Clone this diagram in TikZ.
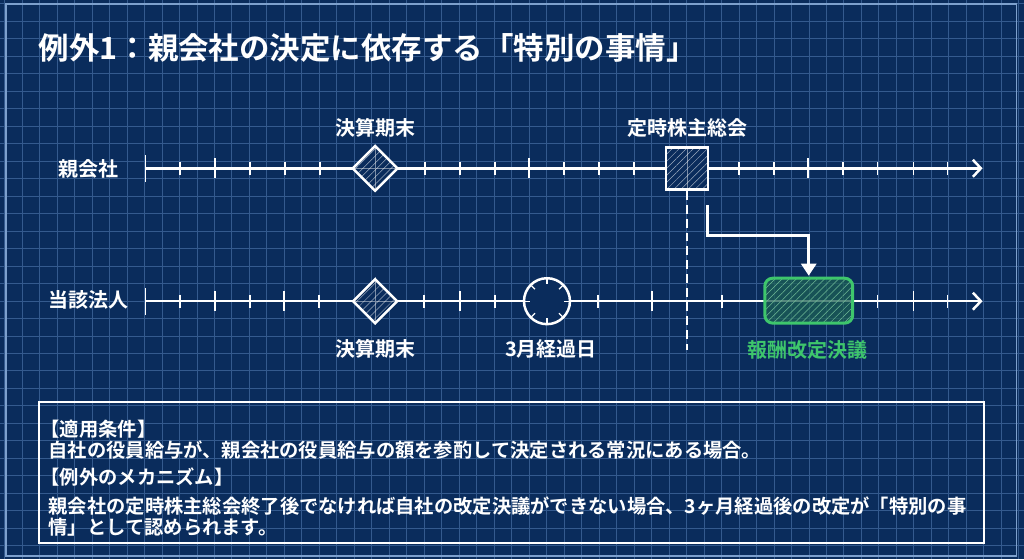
\documentclass[tikz,border=0pt]{standalone}
\usepackage{fontspec}
\setmainfont{Noto Sans CJK JP}[BoldFont={Noto Sans CJK JP Bold}]
\usetikzlibrary{shapes.geometric,arrows.meta,patterns.meta}

\definecolor{bpblue}{RGB}{10,44,92}
\definecolor{bpgrid}{RGB}{52,90,142}
\definecolor{bpedge}{RGB}{125,160,205}
\definecolor{okgreen}{RGB}{62,198,108}
\definecolor{okfill}{RGB}{28,96,84}
\definecolor{okhatch}{RGB}{112,186,150}

\begin{document}
\begin{tikzpicture}[x=1pt,y=-1pt,
    gridline/.style={draw=bpgrid, line width=0.9pt},
    axis/.style={draw=white, line width=2.5pt, -{Straight Barb[length=8pt,width=17pt]}},
    tickmark/.style={draw=white, line width=1.6pt},
    hatch/.style={preaction={fill=bpblue}, pattern={Lines[angle=45,distance=5pt,line width=0.5pt]}, pattern color=white!60!bpblue},
    milestone/.style={diamond, minimum size=45pt, draw=white, line width=2.5pt, hatch},
    meeting/.style={rectangle, minimum size=42pt, draw=white, line width=2.5pt, hatch},
    clock/.style={circle, minimum size=46pt, draw=white, line width=2.5pt, fill=bpblue},
    keybox/.style={rectangle, rounded corners=8pt, minimum width=88pt, minimum height=45pt, draw=okgreen, line width=3pt,
        preaction={fill=okfill, fill opacity=0.75}, pattern={Lines[angle=45,distance=5pt,line width=0.5pt]}, pattern color=okhatch},
    faint/.style={draw=white, line width=0.6pt, opacity=0.45},
    lbl/.style={font=\bfseries\fontsize{20}{24}\selectfont, text=white, inner sep=0pt},
    note/.style={font=\bfseries\fontsize{19.3}{22}\selectfont, text=white, inner sep=0pt, anchor=west}]

        % Blueprint background
        \fill[bpblue] (0,0) rectangle (1024,559);
        \foreach \gx in {4.2,21.7,...,1024} \draw[gridline] (\gx,0) -- (\gx,559);
        \foreach \gy in {3.3,20.8,...,559} \draw[gridline] (0,\gy) -- (1024,\gy);
        \draw[bpedge, line width=1.5pt] (5.5,3.5) rectangle (1017,556);

        % Title
        \node[font=\bfseries\fontsize{30.5}{34}\selectfont, text=white, inner sep=0pt, anchor=west] (title) at (38,48) {例外1：親会社の決定に依存する「特別の事情」};

        % Timelines
        \coordinate (pa) at (145,168);
        \coordinate (pb) at (983,168);
        \coordinate (ca) at (145,301);
        \coordinate (cb) at (983,301);
        \draw[axis] (pa) -- (pb);
        \draw[axis] (ca) -- (cb);
        \draw[tickmark] (145,155) -- (145,182);
        \draw[tickmark] (145,288) -- (145,315);
        \foreach \tx in {180,250,285,320,425,460,495,564,599,634,739,774,843,878,914,948}
            \draw[tickmark] (\tx,161.5) -- (\tx,174.5);
        \foreach \tx in {215,529,808}
            \draw[tickmark] (\tx,158) -- (\tx,178);
        \foreach \tx in {180,250,319,424,495,598,722,878,948}
            \draw[tickmark] (\tx,294.5) -- (\tx,307.5);
        \foreach \tx in {215,284,460,652,914}
            \draw[tickmark] (\tx,291) -- (\tx,311);

        \node[lbl] (parent) at (88,169) {親会社};
        \node[lbl] (self) at (88,300) {当該法人};

        % Parent company events
        \node[milestone] (pfy) at (375,168) {};
        \draw[faint] (pfy.north) -- (pfy.south) (pfy.west) -- (pfy.east);
        \node[lbl, above=0pt] (pfytxt) at (375,137) {決算期末};

        \node[meeting] (agm) at (687,168) {};
        \draw[faint] (agm.north) -- (agm.south);
        \node[lbl, above=0pt] (agmtxt) at (688,137) {定時株主総会};

        % Subsidiary events
        \node[milestone] (sfy) at (375,301) {};
        \draw[faint] (sfy.north) -- (sfy.south) (sfy.west) -- (sfy.east);
        \node[lbl] (sfytxt) at (375,349) {決算期末};

        \node[clock] (clk) at (547,301) {};
        \foreach \a in {0,45,...,315}
            \draw[white, line width=1.2pt] (clk.center) ++(\a:17) -- ++(\a:5);
        \node[lbl] (clktxt) at (551,349) {3月経過日};

        \node[keybox] (rev) at (809,300.5) {};
        \node[lbl, text=okgreen] (revtxt) at (808,350) {報酬改定決議};

        % Dashed guide and bent arrow
        \coordinate (guideend) at (687,350);
        \draw[white, line width=2pt, dash pattern=on 9pt off 5pt] (agm.south) -- (guideend);
        \coordinate (bend) at (708,205);
        \draw[white, line width=3pt, -{Triangle[length=12pt,width=15pt]}, shorten >=1pt] (bend) -- ++(0,30) -| (rev.north);

        % Notes box
        \node[draw=white, line width=2pt, minimum width=945pt, minimum height=141pt, anchor=north west, inner sep=0pt] (info) at (38,401) {};
        \node[note] (cond) at (40,429) {【適用条件】};
        \node[note] (condtxt) at (48,450) {自社の役員給与が、親会社の役員給与の額を参酌して決定される常況にある場合。};
        \node[note] (mech) at (40,477) {【例外のメカニズム】};
        \node[note] (mechtxt) at (48,506) {親会社の定時株主総会終了後でなければ自社の改定決議ができない場合、3ヶ月経過後の改定が「特別の事};
        \node[note] (mechtxtb) at (48,527) {情」として認められます。};
      \end{tikzpicture}
\end{document}
